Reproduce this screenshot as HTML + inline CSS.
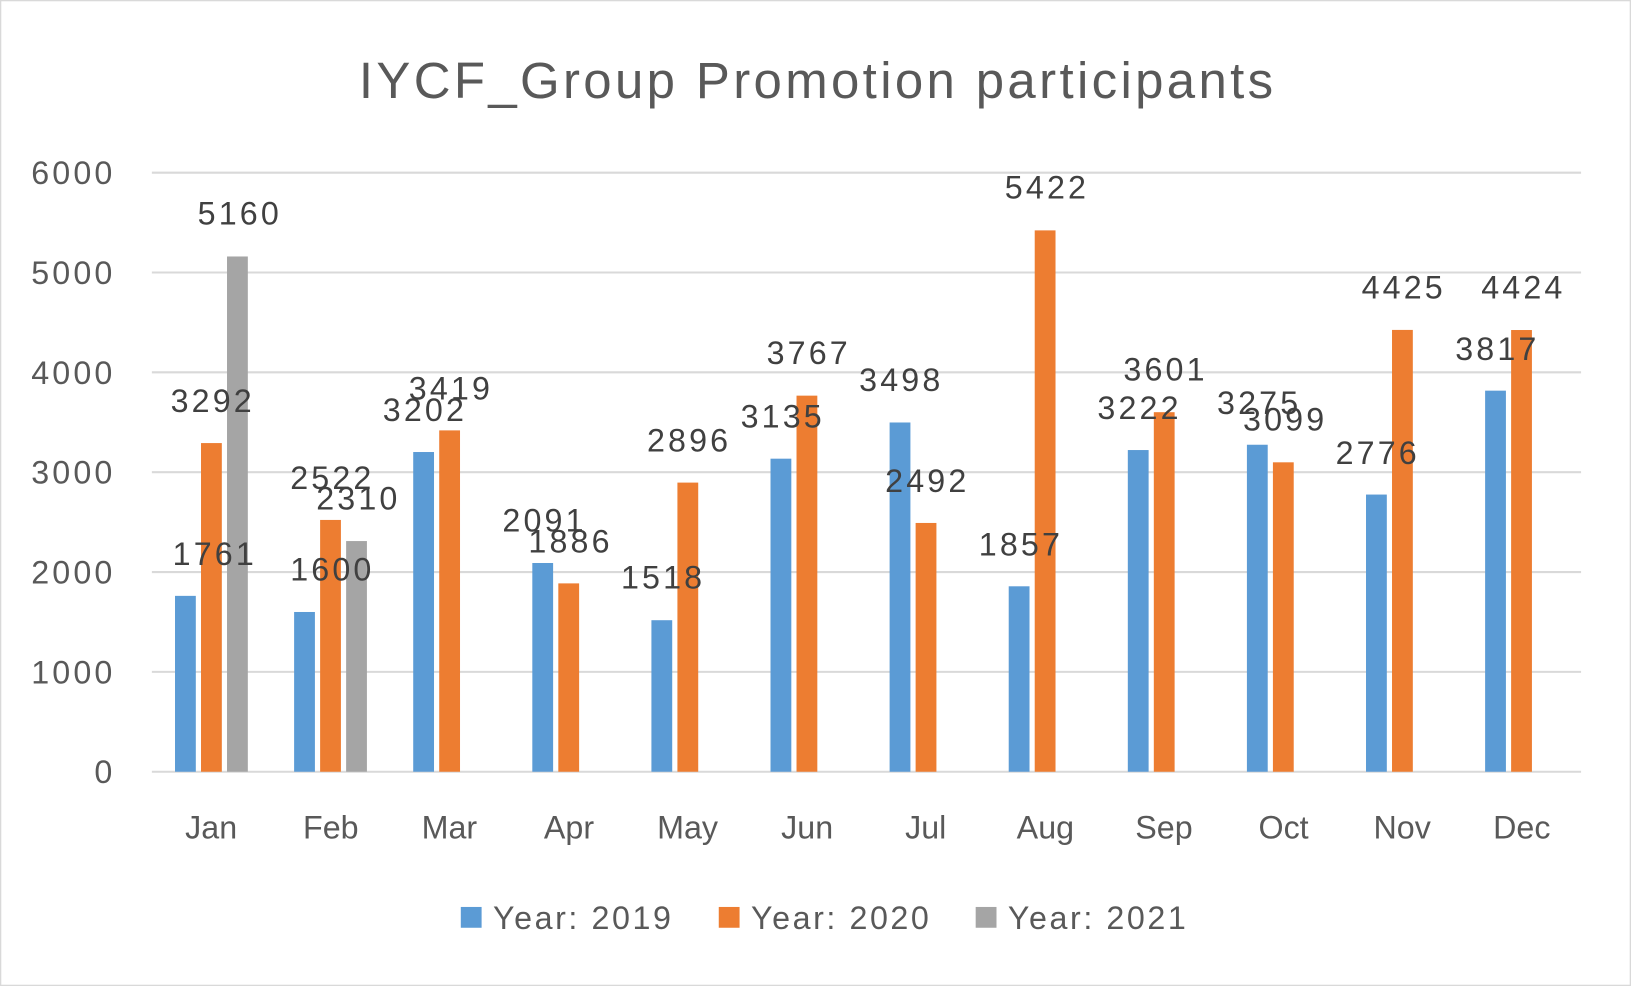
<!DOCTYPE html>
<html><head><meta charset="utf-8"><style>html,body{margin:0;padding:0;background:#fff}svg{display:block}</style></head>
<body>
<svg width="1631" height="986" viewBox="0 0 1568 948" preserveAspectRatio="none" xmlns="http://www.w3.org/2000/svg" font-family="Liberation Sans, sans-serif">
<rect x="0.5" y="0.5" width="1567" height="947" fill="#fff" stroke="#d9d9d9" stroke-width="1.5"/>
<text x="345" y="94" font-size="49" fill="#595959" textLength="879" lengthAdjust="spacing">IYCF_Group Promotion participants</text>
<g stroke="#d9d9d9" stroke-width="2">
<line x1="146" x2="1520" y1="166" y2="166"/><line x1="146" x2="1520" y1="262" y2="262"/>
<line x1="146" x2="1520" y1="358" y2="358"/><line x1="146" x2="1520" y1="454" y2="454"/>
<line x1="146" x2="1520" y1="550" y2="550"/><line x1="146" x2="1520" y1="646" y2="646"/>
<line x1="146" x2="1520" y1="742" y2="742"/></g>
<g font-size="31" fill="#595959">
<text x="30" y="177" textLength="78">6000</text><text x="30" y="273" textLength="78">5000</text><text x="30" y="369" textLength="78">4000</text>
<text x="30" y="465" textLength="78">3000</text><text x="30" y="561" textLength="78">2000</text><text x="30" y="657" textLength="78">1000</text><text x="108" y="753" text-anchor="end">0</text></g>
<g fill="#5b9bd5">
<rect x="168.25" y="572.9" width="20" height="169.1"/>
<rect x="282.75" y="588.4" width="20" height="153.6"/>
<rect x="397.25" y="434.6" width="20" height="307.4"/>
<rect x="511.75" y="541.3" width="20" height="200.7"/>
<rect x="626.25" y="596.3" width="20" height="145.7"/>
<rect x="740.75" y="441" width="20" height="301"/>
<rect x="855.25" y="406.2" width="20" height="335.8"/>
<rect x="969.75" y="563.7" width="20" height="178.3"/>
<rect x="1084.25" y="432.7" width="20" height="309.3"/>
<rect x="1198.75" y="427.6" width="20" height="314.4"/>
<rect x="1313.25" y="475.5" width="20" height="266.5"/>
<rect x="1427.75" y="375.6" width="20" height="366.4"/>
</g>
<g fill="#ed7d31">
<rect x="193.25" y="426" width="20" height="316"/>
<rect x="307.75" y="499.9" width="20" height="242.1"/>
<rect x="422.25" y="413.8" width="20" height="328.2"/>
<rect x="536.75" y="560.9" width="20" height="181.1"/>
<rect x="651.25" y="464" width="20" height="278"/>
<rect x="765.75" y="380.4" width="20" height="361.6"/>
<rect x="880.25" y="502.8" width="20" height="239.2"/>
<rect x="994.75" y="221.5" width="20" height="520.5"/>
<rect x="1109.25" y="396.3" width="20" height="345.7"/>
<rect x="1223.75" y="444.5" width="20" height="297.5"/>
<rect x="1338.25" y="317.2" width="20" height="424.8"/>
<rect x="1452.75" y="317.3" width="20" height="424.7"/>
</g>
<g fill="#a5a5a5">
<rect x="218.25" y="246.6" width="20" height="495.4"/>
<rect x="332.75" y="520.2" width="20" height="221.8"/>
</g>
<g font-size="31" fill="#404040">
<text x="166" y="543" textLength="78">1761</text><text x="279" y="558" textLength="78">1600</text><text x="368" y="405" textLength="78">3202</text>
<text x="483" y="511" textLength="78">2091</text><text x="597" y="566" textLength="78">1518</text><text x="712" y="411" textLength="78">3135</text>
<text x="826" y="376" textLength="78">3498</text><text x="941" y="534" textLength="78">1857</text><text x="1055" y="403" textLength="78">3222</text>
<text x="1170" y="398" textLength="78">3275</text><text x="1284" y="446" textLength="78">2776</text><text x="1399" y="346" textLength="78">3817</text>
<text x="164" y="396" textLength="78">3292</text><text x="279" y="470" textLength="78">2522</text><text x="393" y="384" textLength="78">3419</text>
<text x="508" y="531" textLength="78">1886</text><text x="622" y="434" textLength="78">2896</text><text x="737" y="350" textLength="78">3767</text>
<text x="851" y="473" textLength="78">2492</text><text x="966" y="191" textLength="78">5422</text><text x="1080" y="366" textLength="78">3601</text>
<text x="1195" y="414" textLength="78">3099</text><text x="1309" y="287" textLength="78">4425</text><text x="1424" y="287" textLength="78">4424</text>
<text x="190" y="216" textLength="78">5160</text><text x="304" y="490" textLength="78">2310</text>
</g>
<g font-size="31" fill="#595959" text-anchor="middle">
<text x="203" y="806">Jan</text><text x="318" y="806">Feb</text><text x="432" y="806">Mar</text>
<text x="547" y="806">Apr</text><text x="661" y="806">May</text><text x="776" y="806">Jun</text>
<text x="890" y="806">Jul</text><text x="1005" y="806">Aug</text><text x="1119" y="806">Sep</text>
<text x="1234" y="806">Oct</text><text x="1348" y="806">Nov</text><text x="1463" y="806">Dec</text>
</g>
<rect x="443" y="872" width="20" height="20" fill="#5b9bd5"/><text x="474" y="893" font-size="31" fill="#595959" textLength="171">Year: 2019</text>
<rect x="691" y="872" width="20" height="20" fill="#ed7d31"/><text x="722" y="893" font-size="31" fill="#595959" textLength="171">Year: 2020</text>
<rect x="938" y="872" width="20" height="20" fill="#a5a5a5"/><text x="969" y="893" font-size="31" fill="#595959" textLength="171">Year: 2021</text>
</svg>
</body></html>
